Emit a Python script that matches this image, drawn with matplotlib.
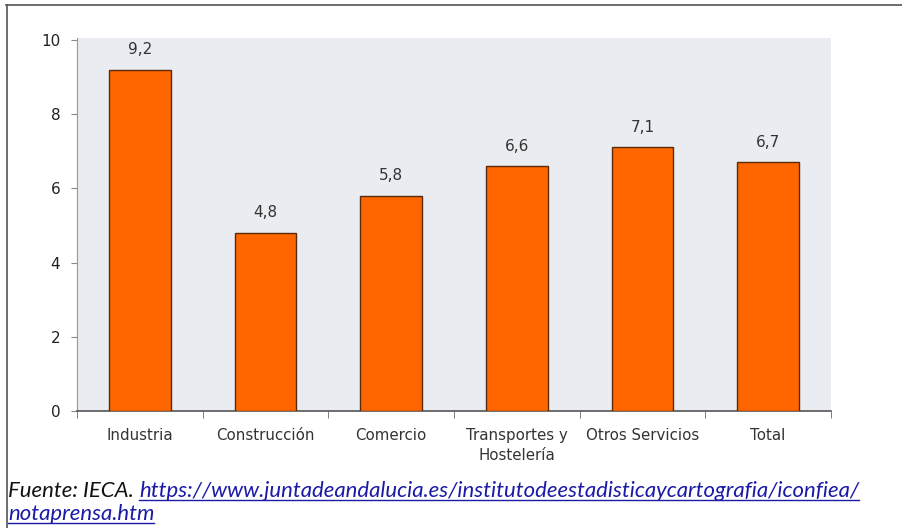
import numpy as np
import matplotlib
matplotlib.use("Agg")
import matplotlib.pyplot as plt
from matplotlib.lines import Line2D

plt.rcParams["font.family"] = ["DejaVu Sans"]

categories = ["Industria", "Construcción", "Comercio", "Transportes y\nHostelería",
              "Otros Servicios", "Total"]
values = [9.2, 4.8, 5.8, 6.6, 7.1, 6.7]
yticks = [0, 2, 4, 6, 8, 10]

source = "Fuente: IECA. "
link_1 = "https://www.juntadeandalucia.es/institutodeestadisticaycartografia/iconfiea/"
link_2 = "notaprensa.htm"

W, H = 902, 528
fig = plt.figure(figsize=(W / 100, H / 100), dpi=100)
fig.patch.set_facecolor("white")

ax = fig.add_axes([77 / W, (H - 411) / H, (831 - 77) / W, (411 - 38) / H])
ax.set_facecolor("#e9ecf0")

x = np.arange(len(values))
bars = ax.bar(x, values, width=0.49, color="#ff6600", edgecolor="#5a2a0a", linewidth=1.0, zorder=3)
for xi, v in zip(x, values):
    ax.annotate(f"{v:.1f}".replace(".", ","), (xi, v), xytext=(0, 9), textcoords="offset points",
                ha="center", va="bottom", fontsize=11, color="#333333")

ax.set_xlim(-0.5, len(values) - 0.5)
ax.set_ylim(0, 10.05)
ax.set_yticks(yticks)
ax.set_yticklabels([str(t) for t in yticks], fontsize=11, color="#222222")

# category labels centred, ticks on category boundaries
ax.set_xticks(x)
ax.set_xticklabels(categories, fontsize=10.8, color="#333333", linespacing=1.35)
ax.tick_params(axis="x", which="major", length=0, pad=12.5)
ax.set_xticks(np.arange(len(values) + 1) - 0.5, minor=True)
ax.tick_params(axis="x", which="minor", length=5, color="#666666", direction="out")
ax.tick_params(axis="y", length=4, color="#888888", pad=8)

for s in ["top", "right"]:
    ax.spines[s].set_visible(False)
ax.spines["left"].set_color("#999999")
ax.spines["bottom"].set_color("#555555")
ax.spines["bottom"].set_linewidth(1.2)

# outer frame lines
fig.add_artist(Line2D([6 / W, 1], [1 - 5 / H, 1 - 5 / H], color="#555555", lw=1.2))
fig.add_artist(Line2D([7 / W, 7 / W], [0, 1 - 5 / H], color="#555555", lw=1.2))

# source note with underlined link
font = dict(family=["Lato", "DejaVu Sans"], style="italic", fontsize=15.9)
t0 = fig.text(8 / W, 1 - 497 / H, source, color="#111111", va="baseline", **font)
fig.canvas.draw()
r = fig.canvas.get_renderer()
bb0 = t0.get_window_extent(r)
t1 = fig.text(bb0.x1 / W, 1 - 497 / H, link_1, color="#1a1aa6", va="baseline", **font)
t2 = fig.text(8 / W, 1 - 520 / H, link_2, color="#1a1aa6", va="baseline", **font)
fig.canvas.draw()
for t, yb in [(t1, 497), (t2, 520)]:
    bb = t.get_window_extent(r)
    yl = 1 - (yb + 3) / H
    fig.add_artist(Line2D([bb.x0 / W, bb.x1 / W], [yl, yl], color="#1a1aa6", lw=1.0))

fig.savefig("out.png", dpi=100)
